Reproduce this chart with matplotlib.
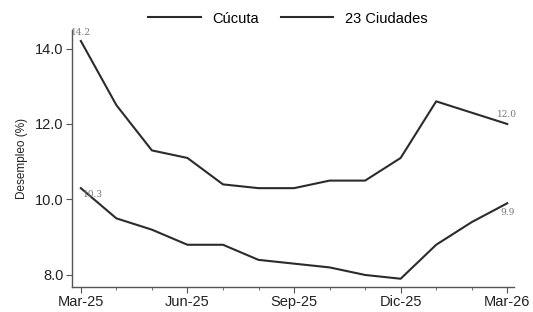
import matplotlib
matplotlib.use("Agg")
import matplotlib.pyplot as plt
from matplotlib.ticker import MultipleLocator

plt.rcParams['font.family'] = ['Liberation Sans', 'DejaVu Sans']

meses = ['Mar-25', 'Abr-25', 'May-25', 'Jun-25', 'Jul-25', 'Ago-25', 'Sep-25',
         'Oct-25', 'Nov-25', 'Dic-25', 'Ene-26', 'Feb-26', 'Mar-26']
cucuta = [14.2, 12.5, 11.3, 11.1, 10.4, 10.3, 10.3, 10.5, 10.5, 11.1, 12.6, 12.3, 12.0]
ciudades = [10.3, 9.5, 9.2, 8.8, 8.8, 8.4, 8.3, 8.2, 8.0, 7.9, 8.8, 9.4, 9.9]
etiquetas_x = ['Mar-25', 'Jun-25', 'Sep-25', 'Dic-25', 'Mar-26']

x = list(range(len(meses)))

fig = plt.figure(figsize=(5.33, 3.12), dpi=100)
ax = fig.add_axes([0.135, 0.08, 0.83, 0.825])

ax.plot(x, cucuta, color='#2b2b2b', lw=1.5, label='Cúcuta')
ax.plot(x, ciudades, color='#2b2b2b', lw=1.5, label='23 Ciudades')

# etiquetas de inicio y fin
lab = dict(fontsize=6.5, color='#777777', family='DejaVu Serif')
ax.text(x[0], cucuta[0] + 0.1, '%.1f' % cucuta[0], ha='center', va='bottom', **lab)
ax.text(x[0] + 0.05, ciudades[0] - 0.05, '%.1f' % ciudades[0], ha='left', va='top', **lab)
ax.text(x[-1], cucuta[-1] + 0.12, '%.1f' % cucuta[-1], ha='center', va='bottom', **lab)
ax.text(x[-1], ciudades[-1] - 0.12, '%.1f' % ciudades[-1], ha='center', va='top', **lab)

ax.set_xlim(-0.25, 12.2)
ax.set_ylim(7.68, 14.5)
ax.set_xticks([0, 3, 6, 9, 12])
ax.set_xticklabels(etiquetas_x, fontsize=10.5, color='#222222')
ax.xaxis.set_minor_locator(MultipleLocator(1))
ax.set_yticks([8, 10, 12, 14])
ax.set_yticklabels(['8.0', '10.0', '12.0', '14.0'], fontsize=10.5, color='#222222')
ax.set_ylabel('Desempleo (%)', fontsize=8.5, color='#222222', labelpad=5)

for s in ['top', 'right']:
    ax.spines[s].set_visible(False)
for s in ['left', 'bottom']:
    ax.spines[s].set_color('#555555')
    ax.spines[s].set_linewidth(1.0)
ax.tick_params(axis='both', which='major', length=4, color='#555555', pad=2)
ax.tick_params(axis='x', which='minor', length=2, color='#555555')

fig.legend(loc='upper center', bbox_to_anchor=(0.54, 1.005), ncol=2, frameon=False,
           fontsize=10.5, handlelength=3.6, columnspacing=1.5)

fig.savefig('out.png', dpi=100)
